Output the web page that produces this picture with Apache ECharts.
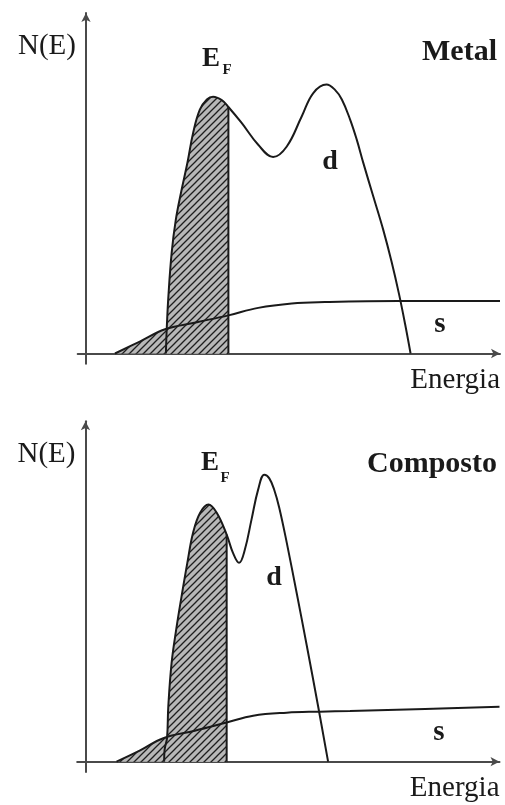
<!DOCTYPE html>
<html><head><meta charset="utf-8">
<script src="https://cdn.jsdelivr.net/npm/echarts@6/dist/echarts.min.js"></script>
<style>html,body{margin:0;padding:0;background:#fff}#c{width:505px;height:805px}</style>
</head><body><div id="c"></div>
<script>
// ---- Data (Energia, N(E)) ----
const panelTitles = ['Metal', 'Composto'];
const metalS = [[7.0,0],[13.0,3.5],[19.1,7.1],[26.8,9.2],[34.4,11.2],[41.6,13.4],[49.7,14.7],[57.7,15.1],[75.4,15.4],[87.9,15.4],[100,15.4]];
const metalD = [[19.3,0],[19.4,4.0],[19.5,7.2],[19.9,16.7],[20.7,29.6],[21.7,39.3],[23.1,48.1],[24.5,56.0],[25.9,64.9],[27.5,71.6],[29.2,74.6],[30.7,75.4],[32.8,74.4],[34.4,72.4],[37.6,67.7],[41.6,61.3],[45.2,57.7],[48.5,60.8],[52.1,69.6],[54.9,76.5],[58.1,79.0],[60.1,77.5],[61.8,74.6],[63.8,68.7],[65.4,62.8],[67.0,55.9],[69.4,46.1],[71.8,36.3],[73.8,27.0],[75.6,17.5],[77.1,8.5],[78.4,0]];
const metalEF = 34.4;
const compS = [[7.5,0],[13.2,3.3],[18.8,6.9],[26.4,9.1],[34.1,11.5],[40.5,13.5],[48.6,14.4],[56.6,14.7],[63.9,14.9],[82.0,15.5],[100,16.1]];
const compD = [[19.0,0],[19.1,3.4],[19.7,7.0],[20.0,16.2],[20.8,29.0],[21.9,38.7],[23.2,48.5],[24.6,58.4],[26.0,67.3],[27.7,73.1],[29.7,75.5],[31.7,73.1],[34.1,66.7],[35.6,61.4],[37.1,58.4],[38.5,62.3],[40.1,71.1],[41.7,79.9],[43.2,84.3],[44.4,83.2],[45.6,79.8],[46.8,74.6],[48.6,64.4],[51.0,49.6],[53.4,34.4],[56.2,16.2],[58.6,0]];
const compEF = 34.1;

// ---- helpers ----
function valAt(arr, x){
  for (let i=0;i<arr.length-1;i++){
    const a=arr[i], b=arr[i+1];
    if (x>=a[0] && x<=b[0]) { const t=(b[0]===a[0])?0:(x-a[0])/(b[0]-a[0]); return a[1]+t*(b[1]-a[1]); }
  }
  return 0;
}
function makeHatch(){
  const s=7, c=document.createElement('canvas'); c.width=s; c.height=s;
  const g=c.getContext('2d'); g.fillStyle='#b8b8b8'; g.fillRect(0,0,s,s);
  g.strokeStyle='#1e1e1e'; g.lineWidth=1.3; g.beginPath();
  g.moveTo(0,s); g.lineTo(s,0); g.moveTo(-1,1); g.lineTo(1,-1); g.moveTo(s-1,s+1); g.lineTo(s+1,s-1);
  g.stroke(); return c;
}
const hatch = {image: makeHatch(), repeat: 'repeat'};
const SERIF = 'Liberation Serif';
const INK = '#1a1a1a';
const SM = 0.4;

function panelSeries(idx, S, D, EF){
  const base = {type:'line', xAxisIndex:idx, yAxisIndex:idx, showSymbol:false, symbol:'none', silent:true, animation:false};
  return [
    Object.assign({}, base, {data:S.filter(p=>p[0]<=EF), smooth:SM, lineStyle:{width:0}, areaStyle:{color:hatch, opacity:1, origin:0}, z:1}),
    Object.assign({}, base, {data:D.filter(p=>p[0]<=EF), smooth:SM, lineStyle:{width:0}, areaStyle:{color:hatch, opacity:1, origin:0}, z:1}),
    Object.assign({}, base, {data:S, smooth:SM, lineStyle:{color:INK, width:2}, z:3}),
    Object.assign({}, base, {data:D, smooth:SM, lineStyle:{color:INK, width:2}, z:3}),
    Object.assign({}, base, {data:[[EF, valAt(D,EF)],[EF,0]], lineStyle:{color:INK, width:2}, z:3})
  ];
}
function xAx(idx){
  return {type:'value', gridIndex:idx, min:-2, max:100, axisLabel:{show:false}, axisTick:{show:false}, splitLine:{show:false},
    axisLine:{onZero:true, symbol:['none','arrow'], symbolSize:[7,9], lineStyle:{color:'#4a4a4a', width:2}},
    name:'Energia', nameLocation:'end', nameGap:0,
    nameTextStyle:{fontFamily:SERIF, fontSize:29, color:INK, align:'right', verticalAlign:'top', padding:[12,0,0,0]}};
}
function yAx(idx){
  return {type:'value', gridIndex:idx, min:-3, max:100, axisLabel:{show:false}, axisTick:{show:false}, splitLine:{show:false},
    axisLine:{onZero:true, symbol:['none','arrow'], symbolSize:[7,9], lineStyle:{color:'#4a4a4a', width:2}},
    name:'N(E)', nameLocation:'end', nameGap:-19,
    nameTextStyle:{fontFamily:SERIF, fontSize:29, color:INK, align:'right', verticalAlign:'top', padding:[0,10,0,0]}};
}
function txt(x,y,text,size){
  return {type:'text', x:x, y:y, silent:true, z:10, style:{text:text, font:'bold '+size+'px "'+SERIF+'"', fill:INK, align:'center', verticalAlign:'middle'}};
}

const chart = echarts.init(document.getElementById('c'), null, {renderer:'canvas'});
chart.setOption({
  animation:false,
  backgroundColor:'#ffffff',
  title:[
    {text:panelTitles[0], right:8, top:37, padding:0, textStyle:{fontFamily:SERIF, fontWeight:'bold', fontSize:30, color:INK}},
    {text:panelTitles[1], right:8, top:449, padding:0, textStyle:{fontFamily:SERIF, fontWeight:'bold', fontSize:30, color:INK}}
  ],
  grid:[
    {left:77.7, width:422.3, top:13, height:350.7, containLabel:false},
    {left:77.2, width:422.3, top:421.2, height:350.7, containLabel:false}
  ],
  xAxis:[xAx(0), xAx(1)],
  yAxis:[yAx(0), yAx(1)],
  series:[].concat(panelSeries(0, metalS, metalD, metalEF), panelSeries(1, compS, compD, compEF)),
  graphic:[
    txt(211,59,'E',27), txt(227,70,'F',15),
    txt(210,463,'E',27), txt(225,478,'F',15),
    txt(330,162,'d',28), txt(274,578,'d',28),
    txt(440,325,'s',29), txt(439,733,'s',29)
  ]
});
</script>
</body></html>
